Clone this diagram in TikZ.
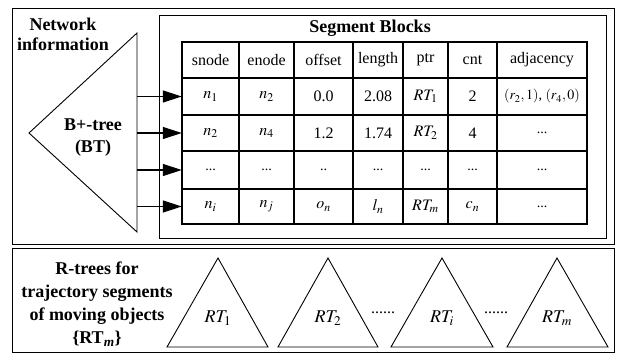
\documentclass[tikz,border=0pt]{standalone}
\usepackage{mathptmx}
\usepackage{fontspec}
\setmainfont{Liberation Serif}
\usetikzlibrary{arrows.meta}
\begin{document}
\begin{tikzpicture}[x=1pt,y=-1pt,
  frame/.style={draw,line width=0.9pt},
  gridline/.style={line width=1.1pt},
  lbl/.style={font=\fontsize{18}{22}\selectfont\bfseries, align=center, inner sep=0pt},
  cell/.style={font=\fontsize{16}{19}\selectfont, inner sep=0pt, anchor=center},
  small/.style={font=\fontsize{14}{17}\selectfont, inner sep=0pt, anchor=center},
  arr/.style={line width=1.2pt, -{Triangle[length=19pt,width=12pt]}},
  tri/.style={draw, line width=0.9pt},
  rtlbl/.style={font=\fontsize{18}{22}\selectfont, inner sep=0pt},
  dots/.style={font=\fontsize{16}{19}\selectfont, inner sep=0pt}]
\useasboundingbox (0,0) rectangle (622,353);
% frames
\draw[frame] (12,8) rectangle (614,244);
\draw[frame] (159,15) rectangle (606,238);
\draw[frame] (12,248) rectangle (614,352);
% labels top-left
\node[lbl] (netinfo) at (63,34) {Network\\[-2pt]information};
\node[lbl] (bt) at (93,138) {B+-tree\\(BT)};
% B+ tree triangle
\draw[tri] (137,33) coordinate (bttop) -- (29,133) coordinate (btapex) -- (137,232) coordinate (btbot) -- cycle;
% segment blocks title
\node[lbl] (segtitle) at (370,28) {Segment Blocks};
% table grid
\draw[gridline] (182,42) rectangle (587,224);
\foreach \y in {78,115,151,189} \draw[gridline] (182,\y) -- (587,\y);
\foreach \x in {239,294,353,403,448,497} \draw[gridline] (\x,42) -- (\x,224);
% header
\node[cell] (h1) at (210.5,60) {snode};
\node[cell] (h2) at (266.5,60) {enode};
\node[cell] (h3) at (323.5,60) {offset};
\node[cell] (h4) at (378,60) {length};
\node[cell] (h5) at (425.5,60) {ptr};
\node[cell] (h6) at (472.5,60) {cnt};
\node[cell] (h7) at (542,60) {adjacency};
% row 1
\node[cell,minimum width=57pt,minimum height=37pt] (r1) at (210.5,96.5) {$n_1$};
\node[cell] (r1c2) at (266.5,96.5) {$n_2$};
\node[cell] (r1c3) at (323.5,96.5) {0.0};
\node[cell] (r1c4) at (378,96.5) {2.08};
\node[cell] (r1c5) at (425.5,96.5) {$RT_1$};
\node[cell] (r1c6) at (472.5,96.5) {2};
\node[small] (r1c7) at (542,96.5) {$(r_2,1)$, $(r_4,0)$};
% row 2
\node[cell,minimum width=57pt,minimum height=36pt] (r2) at (210.5,133) {$n_2$};
\node[cell] (r2c2) at (266.5,133) {$n_4$};
\node[cell] (r2c3) at (323.5,133) {1.2};
\node[cell] (r2c4) at (378,133) {1.74};
\node[cell] (r2c5) at (425.5,133) {$RT_2$};
\node[cell] (r2c6) at (472.5,133) {4};
\node[small] (r2c7) at (542,133) {...};
% row 3
\node[small,minimum width=57pt,minimum height=38pt] (r3) at (210.5,170) {...};
\node[small] (r3c2) at (266.5,170) {...};
\node[small] (r3c3) at (323.5,170) {..};
\node[small] (r3c4) at (378,170) {...};
\node[small] (r3c5) at (425.5,170) {...};
\node[small] (r3c6) at (472.5,170) {...};
\node[small] (r3c7) at (542,170) {...};
% row 4
\node[cell,minimum width=57pt,minimum height=35pt] (r4) at (210.5,206.5) {$n_i$};
\node[cell] (r4c2) at (266.5,206.5) {$n_j$};
\node[cell] (r4c3) at (323.5,206.5) {$o_n$};
\node[cell] (r4c4) at (378,206.5) {$l_n$};
\node[cell] (r4c5) at (425.5,206.5) {$RT_m$};
\node[cell] (r4c6) at (472.5,206.5) {$c_n$};
\node[small] (r4c7) at (542,206.5) {...};
% arrows
\coordinate (b1) at (137,96.5);
\coordinate (b2) at (137,133);
\coordinate (b3) at (137,170);
\coordinate (b4) at (137,206.5);
\draw[arr] (b1) -- (r1.west);
\draw[arr] (b2) -- (r2.west);
\draw[arr] (b3) -- (r3.west);
\draw[arr] (b4) -- (r4.west);
% bottom label
\node[lbl] (rtrees) at (97,304) {R-trees for\\[1pt]trajectory segments\\[1pt]of moving objects\\[1pt]\{RT\textsubscript{\textit{m}}\}};
% R-trees
\draw[tri] (218,258) -- (167,347) -- (268,347) -- cycle;
\draw[tri] (328,258) -- (278,347) -- (378,347) -- cycle;
\draw[tri] (442,258) -- (391,347) -- (493,347) -- cycle;
\draw[tri] (557,258) -- (507,347) -- (608,347) -- cycle;
\node[rtlbl] (rt1) at (218,318) {$RT_1$};
\node[rtlbl] (rt2) at (328,318) {$RT_2$};
\node[rtlbl] (rti) at (442,318) {$RT_i$};
\node[rtlbl] (rtm) at (557,318) {$RT_m$};
\node[dots] (d1) at (383,313) {......};
\node[dots] (d2) at (496,313) {......};
\end{tikzpicture}
\end{document}
